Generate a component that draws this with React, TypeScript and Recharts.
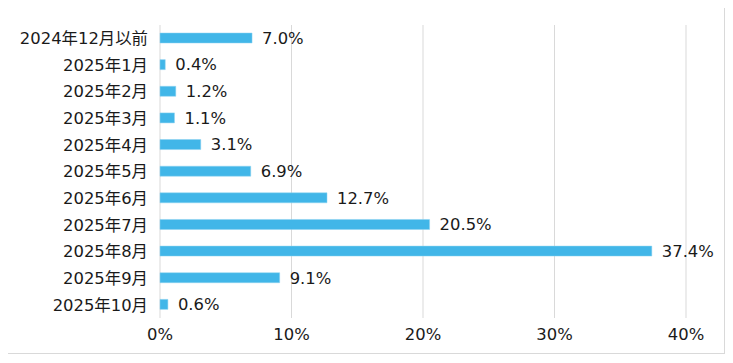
import { BarChart, Bar, XAxis, YAxis, CartesianGrid, LabelList } from "recharts";

const categories = [
  "2024年12月以前",
  "2025年1月",
  "2025年2月",
  "2025年3月",
  "2025年4月",
  "2025年5月",
  "2025年6月",
  "2025年7月",
  "2025年8月",
  "2025年9月",
  "2025年10月",
];

const shares = [7.0, 0.4, 1.2, 1.1, 3.1, 6.9, 12.7, 20.5, 37.4, 9.1, 0.6];

const xTicks = [0, 10, 20, 30, 40];

const data = categories.map((name, i) => ({ name, value: shares[i] }));

const FONT = "'DejaVu Sans', 'Noto Sans CJK JP', sans-serif";
const BAR_COLOR = "#41b6e8";
const TEXT = "#1a1a1a";
const SIZE = 16.4;

export default function App() {
  return (
    <div style={{ position: "relative", width: 733, height: 363, margin: -8, fontFamily: FONT }}>
      <div
        style={{
          position: "absolute",
          left: 7,
          top: 5,
          width: 716,
          height: 347,
          border: "1px solid #d9d9d9",
        }}
      />
      <div style={{ position: "absolute", left: 0, top: 0 }}>
        <BarChart
          width={733}
          height={363}
          data={data}
          layout="vertical"
          margin={{ top: 25, right: 47, left: 0, bottom: 15 }}
        >
          <CartesianGrid horizontal={false} stroke="#d9d9d9" />
          <XAxis
            type="number"
            domain={[0, 40]}
            ticks={xTicks}
            tickFormatter={(v: number) => `${v}%`}
            axisLine={false}
            tickLine={false}
            tickMargin={4}
            height={30}
            tick={{ fill: TEXT, fontSize: SIZE, fontFamily: FONT }}
          />
          <YAxis
            type="category"
            dataKey="name"
            width={160}
            axisLine={false}
            tickLine={false}
            tickMargin={6}
            interval={0}
            tick={{ fill: TEXT, fontSize: SIZE, fontFamily: FONT }}
          />
          <Bar
            dataKey="value"
            fill={BAR_COLOR}
            stroke="#8fd3f0"
            strokeWidth={0.5}
            barSize={10}
            isAnimationActive={false}
          >
            <LabelList
              dataKey="value"
              position="right"
              offset={10}
              formatter={(v: number) => `${v.toFixed(1)}%`}
              style={{ fill: TEXT, fontSize: SIZE, fontFamily: FONT, stroke: "none" }}
            />
          </Bar>
        </BarChart>
      </div>
    </div>
  );
}
